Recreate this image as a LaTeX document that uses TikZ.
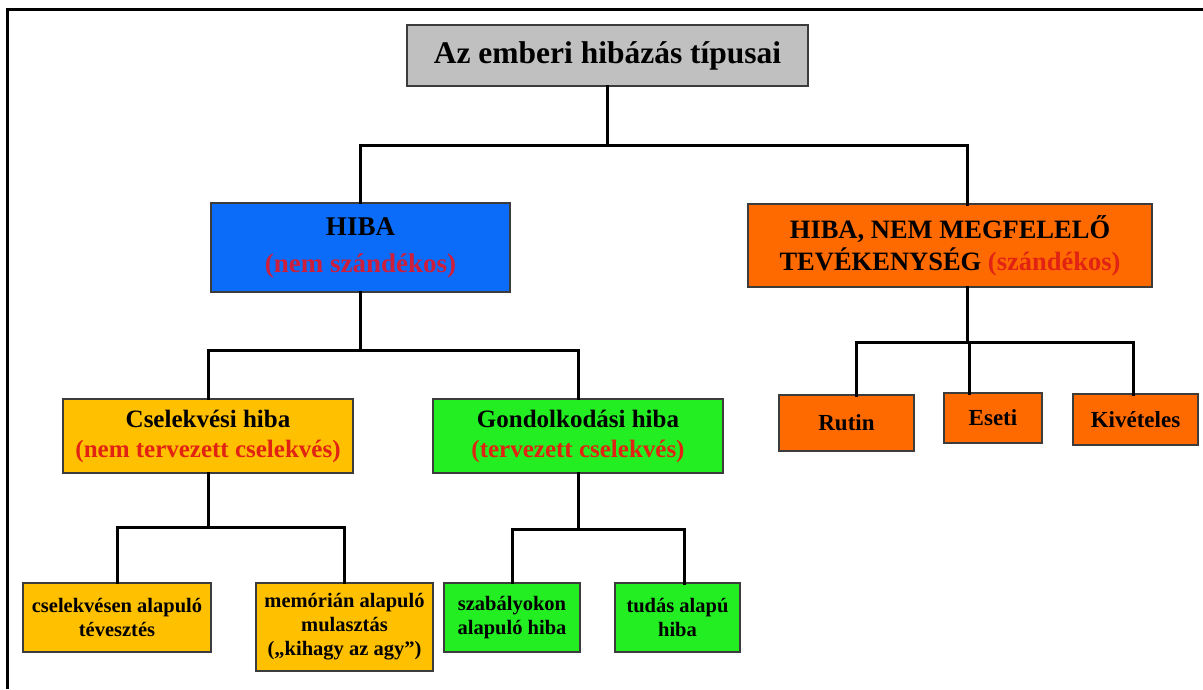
\documentclass[tikz,border=0pt]{standalone}
\usepackage{fontspec}
\setmainfont{Liberation Serif}
\definecolor{tgray}{RGB}{192,192,192}
\definecolor{hblue}{RGB}{10,108,248}
\definecolor{horange}{RGB}{255,106,0}
\definecolor{hyellow}{RGB}{255,192,0}
\definecolor{hgreen}{RGB}{34,238,34}
\definecolor{hred}{RGB}{205,30,60}
\definecolor{hred2}{RGB}{225,35,20}
\definecolor{bordc}{RGB}{60,60,60}
\begin{document}
\begin{tikzpicture}[x=1pt,y=-1pt,
  box/.style={draw=bordc, line width=1.2pt, align=center, inner sep=0pt, rectangle},
  conn/.style={line width=3pt, line cap=rect},
  fA/.style={font=\bfseries\fontsize{31.5}{36}\selectfont},
  fB/.style={font=\bfseries\fontsize{27}{37}\selectfont},
  fC/.style={font=\bfseries\fontsize{26.5}{32}\selectfont},
  fD/.style={font=\bfseries\fontsize{25}{30}\selectfont},
  fE/.style={font=\bfseries\fontsize{23}{27}\selectfont},
  fF/.style={font=\bfseries\fontsize{20.5}{24}\selectfont}]
\useasboundingbox (0,0) rectangle (1203,689);
\fill[white] (0,0) rectangle (1203,689);
% frame
\draw[line width=3pt] (7,689) -- (7,9) -- (1203,9);

% nodes
\node[box, fill=tgray, fA, minimum width=401, minimum height=61] (top) at (607.5,55.5) {Az emberi hibázás típusai};
\node[box, fill=hblue, fB, minimum width=299, minimum height=89] (hiba) at (360.5,247.5) {HIBA\\\textcolor{hred}{(nem szándékos)}};
\node[box, fill=horange, fC, minimum width=404, minimum height=83] (nmt) at (950,245.5) {HIBA, NEM MEGFELELŐ\\TEVÉKENYSÉG \textcolor{hred2}{(szándékos)}};
\node[box, fill=hyellow, fD, minimum width=290, minimum height=74] (csel) at (208,436) {Cselekvési hiba\\\textcolor{hred2}{(nem tervezett cselekvés)}};
\node[box, fill=hgreen, fD, minimum width=290, minimum height=74] (gond) at (578,436) {Gondolkodási hiba\\\textcolor{hred2}{(tervezett cselekvés)}};
\node[box, fill=horange, fE, minimum width=135, minimum height=56] (rutin) at (846.5,423) {Rutin};
\node[box, fill=horange, fE, minimum width=98, minimum height=50] (eseti) at (993,418) {Eseti};
\node[box, fill=horange, fE, minimum width=125, minimum height=51] (kiv) at (1135.5,419.5) {Kivételes};
\node[box, fill=hyellow, fF, minimum width=188, minimum height=69] (cst) at (117,617.5) {cselekvésen alapuló\\tévesztés};
\node[box, fill=hyellow, fF, minimum width=177, minimum height=88] (mem) at (344.5,627) {memórián alapuló\\mulasztás\\(„kihagy az agy”)};
\node[box, fill=hgreen, fF, minimum width=136, minimum height=69] (szab) at (512,617.5) {szabályokon\\alapuló hiba};
\node[box, fill=hgreen, fF, minimum width=125, minimum height=69] (tud) at (677.5,617.5) {tudás alapú\\hiba};

% connector points
\coordinate (b1) at (607.5,145);
\coordinate (b2) at (360.5,350);
\coordinate (b3) at (967,342);
\coordinate (b4) at (208,527);
\coordinate (b5) at (578,529);
\coordinate (ntop) at (967,204);
\coordinate (nbot) at (967,287);
\coordinate (rtop) at (856,395);
\coordinate (etop) at (969,393);
\coordinate (ktop) at (1133,394);
\coordinate (ttop) at (684,583);

% connectors
\draw[conn] (top.south) -- (b1);
\draw[conn] (hiba.north) |- (b1) -| (ntop);
\draw[conn] (hiba.south) -- (b2);
\draw[conn] (csel.north) |- (b2) -| (gond.north);
\draw[conn] (nbot) -- (b3);
\draw[conn] (rtop) |- (b3) -| (ktop);
\draw[conn] (etop) -- (etop |- b3);
\draw[conn] (csel.south) -- (b4);
\draw[conn] (cst.north) |- (b4) -| (mem.north);
\draw[conn] (gond.south) -- (b5);
\draw[conn] (szab.north) |- (b5) -| (ttop);
\end{tikzpicture}
\end{document}
